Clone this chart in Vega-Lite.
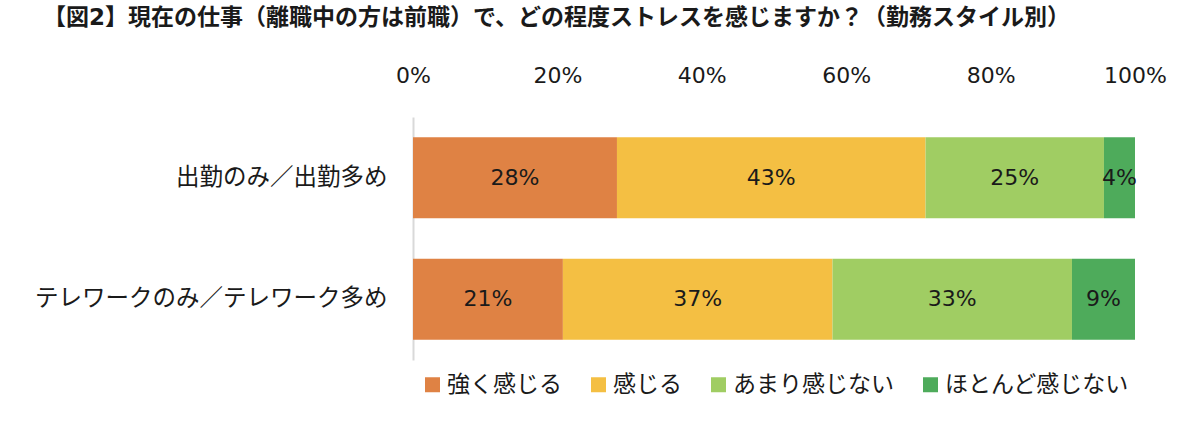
{
  "$schema": "https://vega.github.io/schema/vega-lite/v6.json",
  "width": 722,
  "height": 243,
  "autosize": {"type": "none"},
  "padding": {"left": 413, "top": 117, "right": 65, "bottom": 87},
  "background": "white",
  "title": {
    "text": "【図2】現在の仕事（離職中の方は前職）で、どの程度ストレスを感じますか？（勤務スタイル別）",
    "anchor": "start",
    "frame": "group",
    "dx": -370,
    "offset": 34,
    "font": "DejaVu Sans, Noto Sans CJK JP",
    "fontSize": 23,
    "fontWeight": "bold",
    "color": "#1a1a1a"
  },
  "data": {
    "values": [
      {"category": "出勤のみ／出勤多め", "response": "強く感じる", "order": 1, "value": 0.2825},
      {"category": "出勤のみ／出勤多め", "response": "感じる", "order": 2, "value": 0.4274},
      {"category": "出勤のみ／出勤多め", "response": "あまり感じない", "order": 3, "value": 0.2471},
      {"category": "出勤のみ／出勤多め", "response": "ほとんど感じない", "order": 4, "value": 0.043},
      {"category": "テレワークのみ／テレワーク多め", "response": "強く感じる", "order": 1, "value": 0.2076},
      {"category": "テレワークのみ／テレワーク多め", "response": "感じる", "order": 2, "value": 0.3734},
      {"category": "テレワークのみ／テレワーク多め", "response": "あまり感じない", "order": 3, "value": 0.3317},
      {"category": "テレワークのみ／テレワーク多め", "response": "ほとんど感じない", "order": 4, "value": 0.0873}
    ]
  },
  "transform": [
    {"stack": "value", "groupby": ["category"], "sort": [{"field": "order", "order": "ascending"}], "as": ["v0", "v1"]},
    {"calculate": "(datum.v0 + datum.v1) / 2", "as": "mid"}
  ],
  "encoding": {
    "y": {
      "field": "category",
      "type": "nominal",
      "sort": ["出勤のみ／出勤多め", "テレワークのみ／テレワーク多め"],
      "scale": {"paddingInner": 0.333, "paddingOuter": 0.1667},
      "axis": {
        "title": null,
        "ticks": false,
        "domainColor": "#d9d9d9",
        "domainWidth": 2,
        "labelPadding": 26,
        "labelFont": "Noto Sans CJK JP",
        "labelFontSize": 23.5,
        "labelColor": "#1a1a1a",
        "labelLimit": 500
      }
    }
  },
  "layer": [
    {
      "mark": {"type": "bar"},
      "encoding": {
        "x": {
          "field": "v0",
          "type": "quantitative",
          "scale": {"domain": [0, 1], "nice": false},
          "axis": {
            "orient": "top",
            "title": null,
            "format": ".0%",
            "values": [0, 0.2, 0.4, 0.6, 0.8, 1],
            "domain": false,
            "ticks": false,
            "grid": false,
            "labelPadding": 30,
            "labelFont": "DejaVu Sans",
            "labelFontSize": 22,
            "labelColor": "#1a1a1a",
            "labelFlush": false
          }
        },
        "x2": {"field": "v1"},
        "color": {
          "field": "response",
          "type": "nominal",
          "scale": {
            "domain": ["強く感じる", "感じる", "あまり感じない", "ほとんど感じない"],
            "range": ["#df8244", "#f4bf43", "#a0cd63", "#4eab5b"]
          },
          "legend": {
            "title": null,
            "orient": "none",
            "direction": "horizontal",
            "columns": 4,
            "legendX": 8,
            "legendY": 256,
            "symbolType": "square",
            "symbolSize": 225,
            "symbolStrokeWidth": 0,
            "symbolOpacity": 1,
            "labelOffset": 3,
            "columnPadding": 25,
            "labelFont": "Noto Sans CJK JP",
            "labelFontSize": 23,
            "labelColor": "#1a1a1a",
            "labelLimit": 400
          }
        }
      }
    },
    {
      "mark": {
        "type": "text",
        "font": "DejaVu Sans",
        "fontSize": 22,
        "color": "#1a1a1a",
        "align": "center",
        "baseline": "middle"
      },
      "encoding": {
        "x": {"field": "mid", "type": "quantitative"},
        "text": {"field": "value", "type": "quantitative", "format": ".0%"}
      }
    }
  ],
  "config": {
    "view": {"stroke": null}
  }
}
